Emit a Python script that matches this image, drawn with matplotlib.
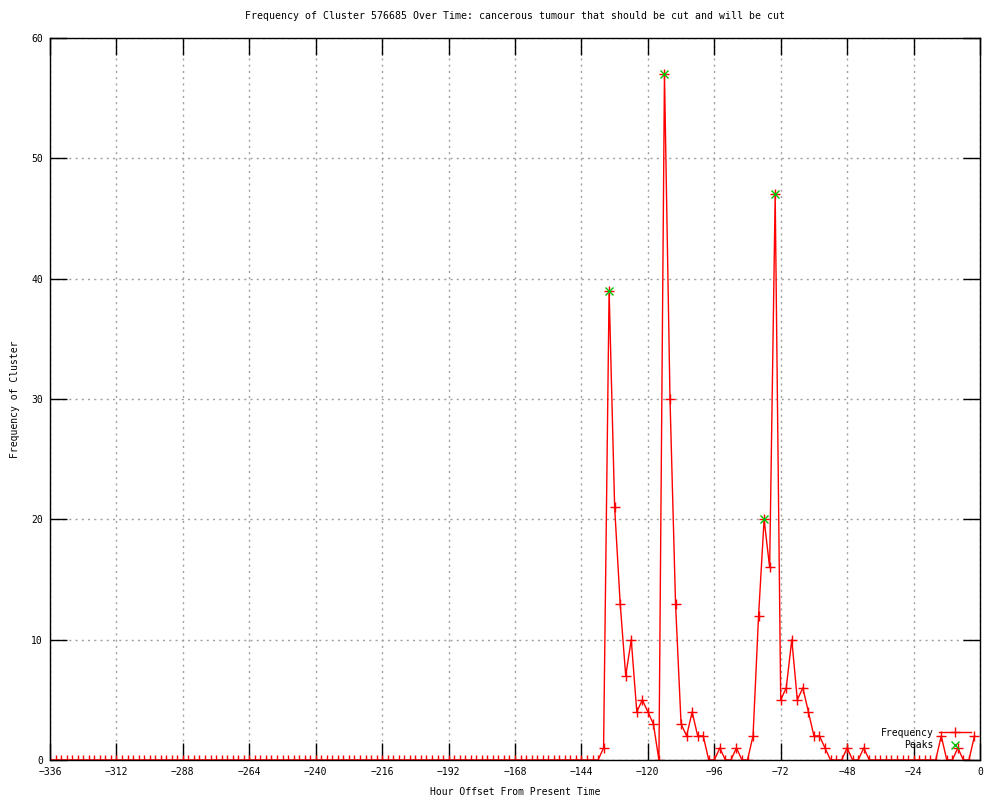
"""
Frequency of one cluster over the last two weeks, gnuplot-ish look
"""
import numpy as np

import matplotlib
matplotlib.use("agg")  # noqa: E402
import matplotlib.pyplot as plt

TITLE = ("Frequency of Cluster 576685 Over Time: "
         "cancerous tumour that should be cut and will be cut")

# hours -336 .. -2, every 2 hours
hours = np.arange(-336, 0, 2)
freq = [0] * 100 + [
    1, 39, 21, 13, 7, 10, 4, 5, 4, 3,      # -136 .. -118
    0, 57, 30, 13, 3, 2, 4, 2, 2, 0,       # -116 .. -98
    0, 1, 0, 0, 1, 0, 0, 2, 12, 20,        # -96 .. -78
    16, 47, 5, 6, 10, 5, 6, 4, 2, 2,       # -76 .. -58
    1, 0, 0, 0, 1, 0, 0, 1, 0, 0,          # -56 .. -38
    0, 0, 0, 0, 0, 0, 0, 0, 0, 0,          # -36 .. -18
    0, 2, 0, 0, 1, 0, 0, 2,                # -16 .. -2
]

peak_hours = [-134, -114, -78, -74]
peak_values = [39, 57, 20, 47]

x_ticks = list(range(-336, 1, 24))
y_ticks = list(range(0, 61, 10))


def main():
    plt.rcParams['font.family'] = ['DejaVu Sans Mono']
    plt.rcParams['font.size'] = 7

    fig = plt.figure(figsize=(10, 8), dpi=100)
    ax = fig.add_axes([0.05, 0.05, 0.93, 0.9025])

    ax.plot(hours, freq, color='#ff0000', lw=1, marker='+',
            markersize=7, markeredgewidth=1, label='Frequency')
    ax.plot(peak_hours, peak_values, ls='none', color='#00c000',
            marker='x', markersize=6, markeredgewidth=1, label='Peaks')

    ax.set_xlim(-336, 0)
    ax.set_ylim(0, 60)
    ax.set_xticks(x_ticks)
    ax.set_yticks(y_ticks)
    ax.tick_params(direction='in', length=12, width=1, top=True,
                   right=True, labelsize=7, pad=5)
    ax.grid(True, color='#a0a0a0', ls=(0, (1.5, 3)), lw=1)
    for s in ax.spines.values():
        s.set_linewidth(1)

    ax.set_title(TITLE, fontsize=7.1, pad=14)
    ax.set_xlabel("Hour Offset From Present Time", fontsize=7, labelpad=7)
    ax.set_ylabel("Frequency of Cluster", fontsize=7, labelpad=8)

    ax.legend(loc='lower right', frameon=False, markerfirst=False,
              fontsize=7, handlelength=3.3, handletextpad=0.6,
              borderaxespad=0.4, labelspacing=0.25,
              bbox_to_anchor=(0.999, 0.003))

    fig.savefig('out.png', dpi=100)


if __name__ == '__main__':
    main()
